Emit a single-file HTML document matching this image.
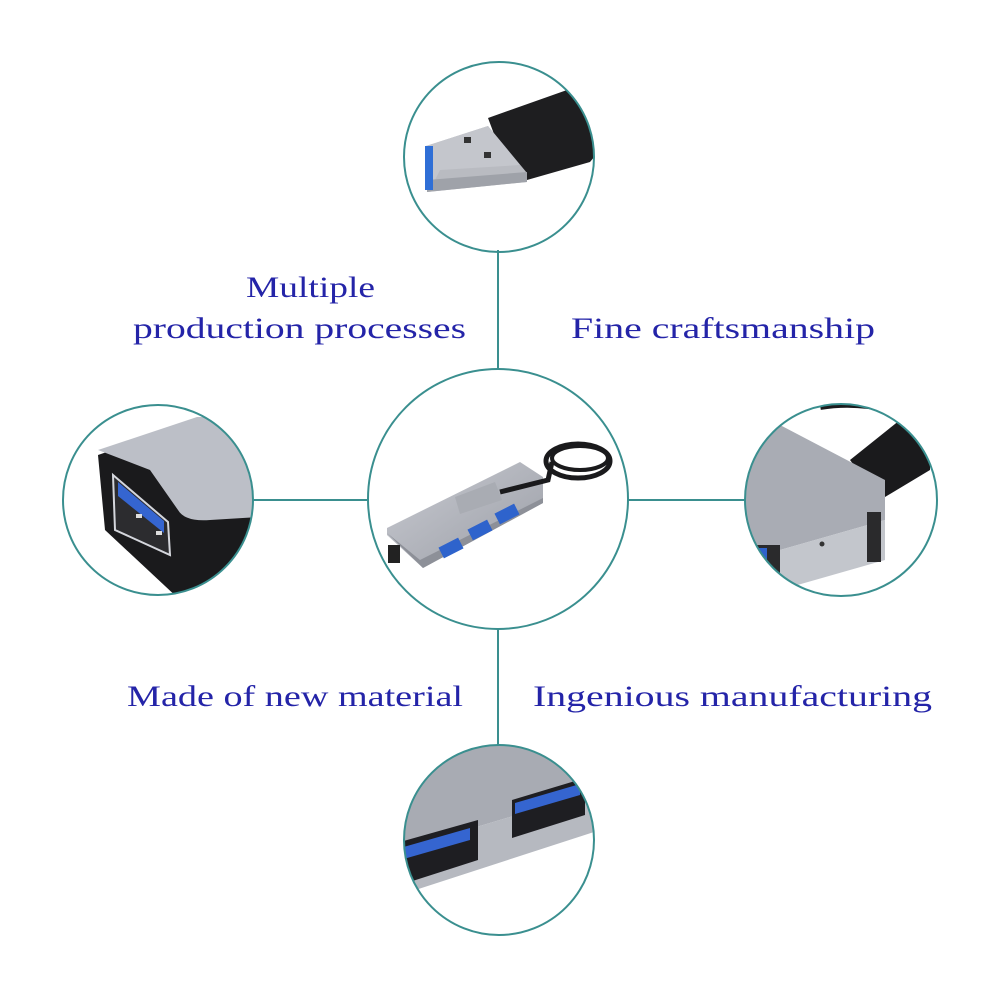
<!DOCTYPE html>
<html><head><meta charset="utf-8"><style>
html,body{margin:0;padding:0;background:#fff}
svg{display:block}
text{font-family:"Liberation Serif",serif;fill:#2424a8;font-size:30px}
</style></head><body>
<svg width="1000" height="1000" viewBox="0 0 1000 1000" xmlns="http://www.w3.org/2000/svg">
<defs>
<clipPath id="cT"><circle cx="499" cy="157" r="95"/></clipPath>
<clipPath id="cL"><circle cx="158" cy="500" r="95"/></clipPath>
<clipPath id="cR"><circle cx="841" cy="500" r="96"/></clipPath>
<clipPath id="cB"><circle cx="499" cy="840" r="95"/></clipPath>
<linearGradient id="met" x1="0" y1="0" x2="1" y2="1"><stop offset="0" stop-color="#c9cbd2"/><stop offset="1" stop-color="#9a9da5"/></linearGradient>
</defs>
<g stroke="#3a8f8f" stroke-width="2" fill="none">
<line x1="498" y1="250" x2="498" y2="370"/>
<line x1="498" y1="628" x2="498" y2="747"/>
<line x1="253" y1="500" x2="367" y2="500"/>
<line x1="628" y1="500" x2="745" y2="500"/>
</g>
<!-- top: usb plug -->
<g clip-path="url(#cT)">
<polygon points="488,118 567,90 600,100 600,150 590,162 527,180 500,150" fill="#1e1e20"/>
<polygon points="426,146 488,126 527,173 527,182 427,192" fill="#b9bbc1"/>
<polygon points="426,146 488,126 520,165 440,170 430,190" fill="#c4c6cc"/>
<polygon points="427,180 527,172 527,182 427,192" fill="#9fa2a9"/>
<rect x="425" y="146" width="8" height="44" fill="#2f6fd6"/>
<rect x="464" y="137" width="7" height="6" fill="#333"/>
<rect x="484" y="152" width="7" height="6" fill="#333"/>
</g>
<circle cx="499" cy="157" r="95" fill="none" stroke="#3a8f8f" stroke-width="2"/>
<!-- left -->
<g clip-path="url(#cL)">
<polygon points="98,455 200,420 260,420 260,600 180,600 105,530" fill="#1a1a1c"/>
<path d="M98,450 L197,417 L260,417 L260,517 L210,520 Q185,522 178,510 L150,470 Z" fill="#bcbfc7"/>
<polygon points="113,475 168,522 170,555 115,530" fill="#2c2c2f" stroke="#d4d6dc" stroke-width="2"/>
<polygon points="118,482 164,521 164,533 118,496" fill="#3565d0"/>
<rect x="136" y="514" width="6" height="4" fill="#ddd"/>
<rect x="156" y="531" width="6" height="4" fill="#ddd"/>
</g>
<circle cx="158" cy="500" r="95" fill="none" stroke="#3a8f8f" stroke-width="2"/>
<!-- right -->
<g clip-path="url(#cR)">
<polygon points="850,460 900,420 930,420 930,470 880,500" fill="#1a1a1c"/>
<path d="M820,405 Q880,395 950,430" stroke="#1a1a1c" stroke-width="10" fill="none"/>
<polygon points="745,430 780,425 885,480 885,520 745,560" fill="#a9acb4"/>
<polygon points="745,560 885,520 885,560 745,600" fill="#c3c6cc"/>
<rect x="867" y="512" width="14" height="50" fill="#2a2a2c"/>
<circle cx="822" cy="544" r="2.5" fill="#333"/>
<rect x="755" y="545" width="25" height="30" fill="#2a2a2c"/>
<rect x="755" y="548" width="12" height="20" fill="#2e63cc"/>
</g>
<circle cx="841" cy="500" r="96" fill="none" stroke="#3a8f8f" stroke-width="2"/>
<!-- bottom -->
<g clip-path="url(#cB)">
<polygon points="400,745 600,745 600,790 400,850" fill="#a8abb3"/>
<polygon points="400,850 600,790 600,830 400,895" fill="#b6b9c0"/>
<polygon points="512,800 585,778 585,815 512,838" fill="#1e1e22"/>
<polygon points="515,803 580,784 580,795 515,814" fill="#3565d0"/>
<polygon points="400,842 478,820 478,860 400,885" fill="#1e1e22"/>
<polygon points="400,848 470,828 470,840 400,860" fill="#3565d0"/>
</g>
<circle cx="499" cy="840" r="95" fill="none" stroke="#3a8f8f" stroke-width="2"/>
<!-- center -->
<circle cx="498" cy="499" r="130" fill="#fff" stroke="#3a8f8f" stroke-width="2"/>
<ellipse cx="578" cy="461" rx="32" ry="17" fill="none" stroke="#1a1a1c" stroke-width="5"/>
<ellipse cx="580" cy="458" rx="28" ry="12" fill="none" stroke="#1a1a1c" stroke-width="4"/>
<polygon points="387,528 520,462 543,477 543,503 423,568 387,535" fill="url(#met)"/>
<polygon points="387,533 423,568 543,503 543,498 420,560" fill="#8d9098"/>
<rect x="440" y="542" width="22" height="12" transform="rotate(-27 451 548)" fill="#2e63cc"/>
<rect x="469" y="524" width="22" height="12" transform="rotate(-27 480 530)" fill="#2e63cc"/>
<rect x="496" y="508" width="22" height="12" transform="rotate(-27 507 514)" fill="#2e63cc"/>
<polygon points="455,497 495,482 502,500 460,514" fill="#a9acb3"/>
<path d="M500,492 L548,480 L552,462" stroke="#1a1a1c" stroke-width="5" fill="none"/>
<rect x="388" y="545" width="12" height="18" fill="#222"/>
<!-- text -->
<text x="246" y="297" textLength="129" lengthAdjust="spacingAndGlyphs">Multiple</text>
<text x="133" y="338" textLength="333" lengthAdjust="spacingAndGlyphs">production processes</text>
<text x="571" y="338" textLength="304" lengthAdjust="spacingAndGlyphs">Fine craftsmanship</text>
<text x="127" y="706" textLength="336" lengthAdjust="spacingAndGlyphs">Made of new material</text>
<text x="533" y="706" textLength="399" lengthAdjust="spacingAndGlyphs">Ingenious manufacturing</text>
</svg>
</body></html>
